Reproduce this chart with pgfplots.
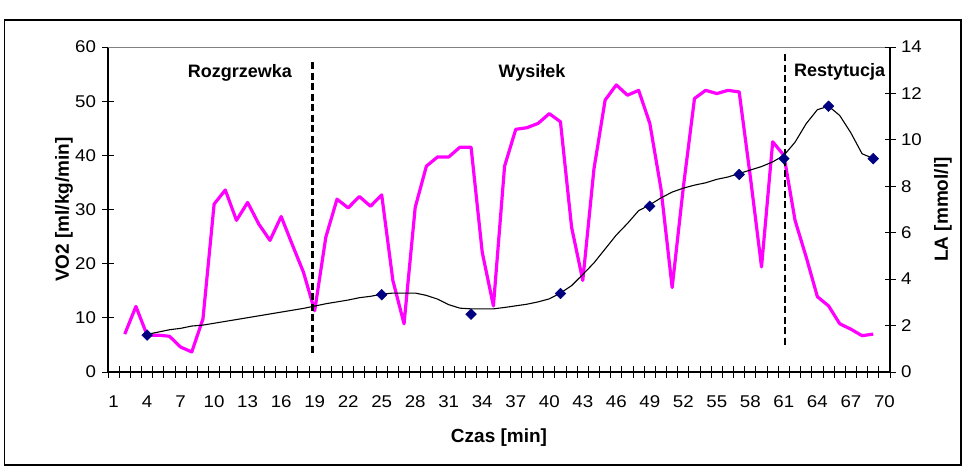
\documentclass[border=0pt]{standalone}
\usepackage{fontspec}
\setmainfont{Liberation Sans}
\newfontfamily\tickfont[FakeStretch=1.1]{Liberation Sans}
\usepackage{pgfplots}
\pgfplotsset{compat=1.18}
\definecolor{vomag}{RGB}{255,0,255}
\definecolor{lanavy}{RGB}{0,0,128}

\begin{document}
\begin{tikzpicture}[x=1pt,y=1pt]
\path[use as bounding box] (-108,-96) rectangle (856,372);
\draw[line width=1.4pt] (-103.5,-93) rectangle (853,352);
\pgfplotsset{
  common/.style={
    scale only axis,
    width=782pt, height=325pt,
    xmin=0.5, xmax=70.5,
    axis line style={-, line width=1.2pt, black},
    tick align=center,
    major tick length=11pt, minor tick length=12pt,
    tick style={black, line width=0.9pt},
    /pgf/number format/assume math mode=true,
    tick label style={font=\tickfont\fontsize{17}{20}\selectfont},
    label style={font=\bfseries\fontsize{19}{22}\selectfont},
  }
}
\begin{axis}[common,
  ymin=0, ymax=60,
  axis x line*=bottom, axis y line*=left,
  xtick={1,4,...,70},
  minor xtick={0.5,1.5,...,70.5},
  major x tick style={draw=none},
  ytick={0,10,...,60},
  xticklabel style={anchor=center, yshift=-24pt},
  yticklabel style={anchor=east, xshift=-3pt},
  xlabel={Czas [min]},
  ylabel={VO2 [ml/kg/min]},
  xlabel style={at={(axis description cs:0.5,-0.203)}, anchor=center},
  ylabel style={at={(axis description cs:-0.0563,0.5)}, anchor=center},
  clip=false,
]
\draw[gray, line width=1pt] (rel axis cs:0,1) -- (rel axis cs:1,1);
\addplot[vomag, line width=3.2pt, line join=round, no markers] coordinates {
(2,7.0) (3,12.1) (4,6.8) (5,6.8) (6,6.6) (7,4.6) (8,3.7) (9,9.8) (10,31.0)
(11,33.6) (12,28.0) (13,31.3) (14,27.3) (15,24.3) (16,28.7) (17,23.5) (18,18.4)
(19,11.3) (20,24.9) (21,31.9) (22,30.3) (23,32.4) (24,30.6) (25,32.7) (26,16.9)
(27,8.9) (28,30.4) (29,38.0) (30,39.7) (31,39.7) (32,41.5) (33,41.5) (34,22.1)
(35,12.2) (36,38.0) (37,44.8) (38,45.1) (39,45.9) (40,47.7) (41,46.2) (42,26.7)
(43,16.9) (44,37.5) (45,50.2) (46,53.0) (47,51.1) (48,52.0) (49,45.9) (50,33.8)
(51,15.6) (52,34.1) (53,50.5) (54,52.0) (55,51.4) (56,52.0) (57,51.7) (58,36.0)
(59,19.4) (60,42.5) (61,40.0) (62,28.0) (63,21.2) (64,13.9) (65,12.2) (66,8.9)
(67,7.9) (68,6.7) (69,7.0)
};
\addplot[black, line width=2.7pt, dash pattern=on 7pt off 3.5pt] coordinates {(18.8,57.2) (18.8,3.3)};
\addplot[black, line width=2.7pt, dash pattern=on 7pt off 3.5pt] coordinates {(61.1,58.7) (61.1,4.6)};
\node[font=\bfseries\fontsize{18}{20}\selectfont] at (axis cs:12.3,55.2) {Rozgrzewka};
\node[font=\bfseries\fontsize{18}{20}\selectfont] at (axis cs:38.46,55.2) {Wysiłek};
\node[font=\bfseries\fontsize{18}{20}\selectfont] at (axis cs:66.0,55.4) {Restytucja};
\end{axis}
\begin{axis}[common,
  ymin=0, ymax=14,
  axis x line=none, axis y line*=right,
  ytick={0,2,...,14},
  yticklabel style={anchor=west, xshift=2pt},
  ylabel={LA [mmol/l]},
  ylabel style={at={(axis description cs:1.0678,0.5)}, anchor=center},
]
\addplot[black, line width=1.1pt, no markers] coordinates {
(4,1.62) (5,1.72) (6,1.82) (7,1.88) (8,1.98) (9,2.02) (10,2.1) (11,2.18) (12,2.26)
(13,2.34) (14,2.42) (15,2.5) (16,2.58) (17,2.66) (18,2.74) (19,2.84) (20,2.94)
(21,3.02) (22,3.1) (23,3.2) (24,3.26) (25,3.35) (26,3.4) (27,3.4) (28,3.4)
(29,3.3) (30,3.14) (31,2.9) (32,2.75) (33,2.72) (34,2.72) (35,2.72) (36,2.78)
(37,2.85) (38,2.92) (39,3.02) (40,3.15) (41,3.4) (42,3.72) (43,4.2) (44,4.7)
(45,5.3) (46,5.9) (47,6.4) (48,6.95) (49,7.2) (50,7.5) (51,7.75) (52,7.92)
(53,8.05) (54,8.15) (55,8.3) (56,8.4) (57,8.55) (58,8.7) (59,8.85) (60,9.05)
(61,9.33) (62,9.9) (63,10.7) (64,11.3) (65,11.45) (66,11.05) (67,10.3) (68,9.4)
(69,9.2)
};
\addplot[only marks, mark=square*, mark size=3.8pt, mark options={rotate=45, fill=lanavy, draw=lanavy}] coordinates {
(4,1.59) (25,3.33) (33,2.49) (41,3.38) (49,7.14) (57,8.51) (61,9.19) (65,11.45) (69,9.19)
};
\end{axis}
\end{tikzpicture}
\end{document}
